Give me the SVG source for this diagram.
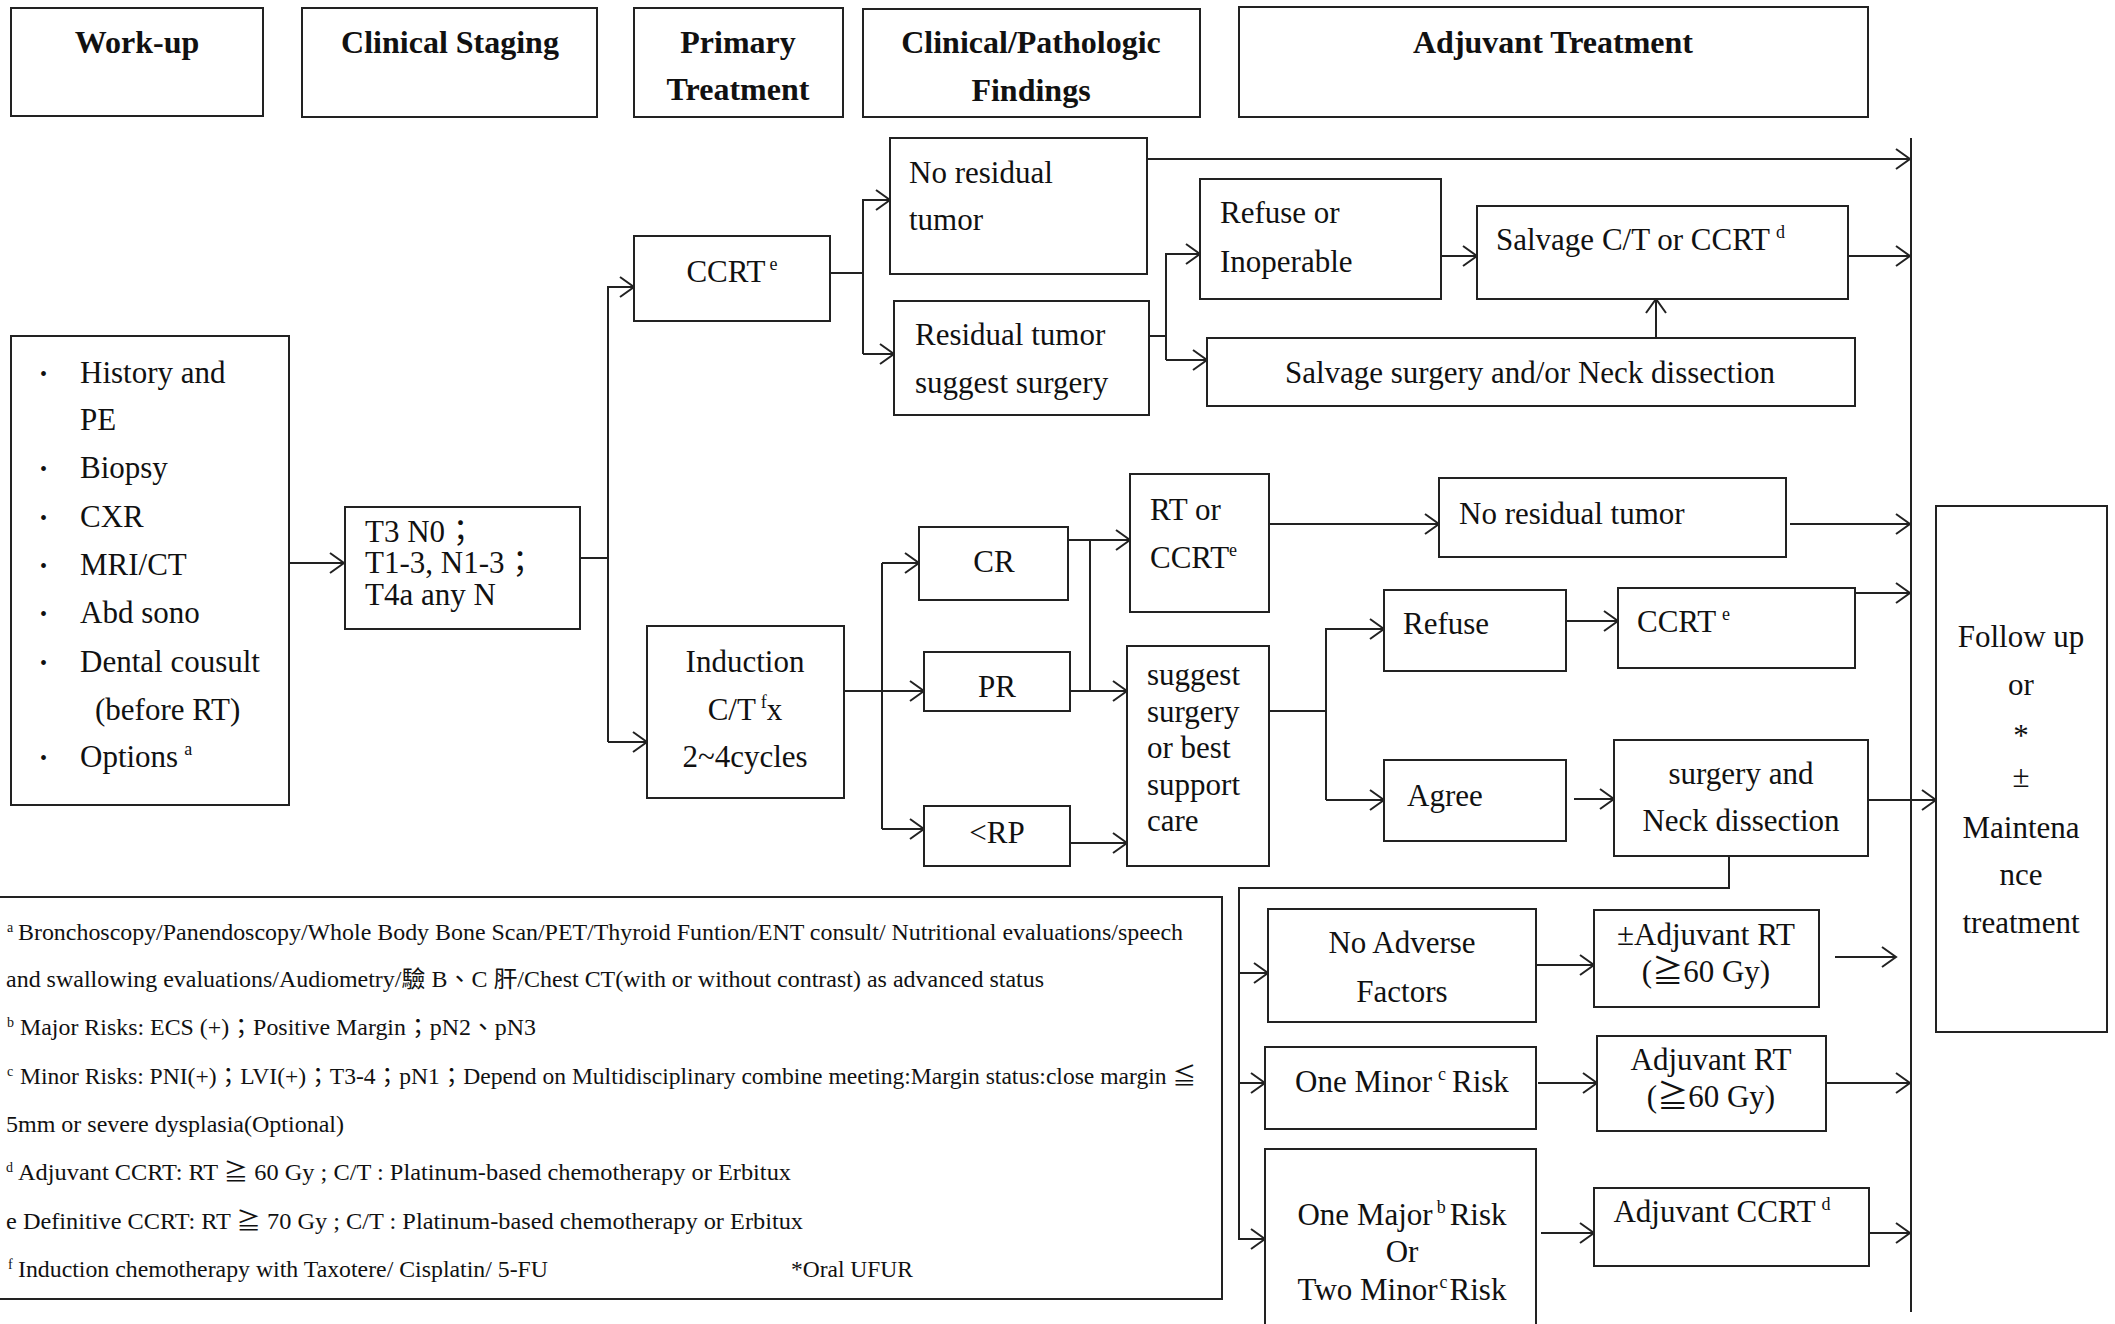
<svg xmlns="http://www.w3.org/2000/svg" width="2115" height="1324" viewBox="0 0 2115 1324">
<style>
rect{fill:#fff;stroke:#222;stroke-width:2}
text{font-family:"Liberation Serif","Times New Roman","Noto Sans CJK TC",serif;font-size:31px;fill:#111}
.h{font-weight:bold;font-size:32px}
.c{text-anchor:middle}
.fn{font-size:23px}
.fs{font-size:14px}
.sup{font-size:18px}
.bul{font-size:20px}
.ln{fill:none;stroke:#222;stroke-width:2}
.ar{marker-end:url(#ah)}
</style>
<defs>
<marker id="ah" markerUnits="userSpaceOnUse" markerWidth="20" markerHeight="22" viewBox="0 0 20 22" refX="15" refY="11" orient="auto">
<path d="M1,1 L15,11 L1,21" fill="none" stroke="#222" stroke-width="2"/>
</marker>
</defs>
<rect x="0" y="0" width="2115" height="1324" style="stroke:none"/>

<g id="connectors">
<path class="ln ar" d="M289,563 H344"/>
<path class="ln" d="M580,558 H608"/>
<path class="ln ar" d="M608,742 V287 H634"/>
<path class="ln ar" d="M608,742 H647"/>
<path class="ln" d="M830,273 H863"/>
<path class="ln ar" d="M863,354 V200 H890"/>
<path class="ln ar" d="M863,354 H894"/>
<path class="ln ar" d="M1147,159 H1910"/>
<path class="ln" d="M1149,336 H1166"/>
<path class="ln ar" d="M1166,360 V254 H1200"/>
<path class="ln ar" d="M1166,360 H1207"/>
<path class="ln ar" d="M1441,256 H1477"/>
<path class="ln ar" d="M1848,256 H1910"/>
<path class="ln ar" d="M1656,338 V299"/>
<path class="ln ar" d="M844,691 H924"/>
<path class="ln" d="M882,563 V829"/>
<path class="ln ar" d="M882,563 H919"/>
<path class="ln ar" d="M882,829 H924"/>
<path class="ln ar" d="M1068,540 H1130"/>
<path class="ln" d="M1090,540 V691"/>
<path class="ln ar" d="M1070,691 H1127"/>
<path class="ln ar" d="M1070,843 H1127"/>
<path class="ln ar" d="M1269,524 H1439"/>
<path class="ln ar" d="M1790,524 H1910"/>
<path class="ln" d="M1269,711 H1326"/>
<path class="ln ar" d="M1326,800 V629 H1384"/>
<path class="ln ar" d="M1326,800 H1384"/>
<path class="ln ar" d="M1566,621 H1618"/>
<path class="ln ar" d="M1855,593 H1910"/>
<path class="ln ar" d="M1574,799 H1614"/>
<path class="ln ar" d="M1868,800 H1936"/>
<path class="ln ar" d="M1729,856 V888 H1239 V1239 H1265"/>
<path class="ln ar" d="M1239,973 H1268"/>
<path class="ln ar" d="M1239,1083 H1265"/>
<path class="ln ar" d="M1536,965 H1594"/>
<path class="ln ar" d="M1835,957 H1896"/>
<path class="ln ar" d="M1538,1083 H1597"/>
<path class="ln ar" d="M1826,1083 H1910"/>
<path class="ln ar" d="M1541,1233 H1594"/>
<path class="ln ar" d="M1869,1233 H1910"/>
<path class="ln" d="M1911,138 V1312"/>
</g>

<g id="hdr-workup"><rect x="11" y="8" width="252" height="108"/><text class="h c" x="137" y="53">Work-up</text></g>
<g id="hdr-staging"><rect x="302" y="8" width="295" height="109"/><text class="h c" x="450" y="53">Clinical Staging</text></g>
<g id="hdr-primary"><rect x="634" y="8" width="209" height="109"/><text class="h c" x="738" y="53">Primary</text><text class="h c" x="738" y="100">Treatment</text></g>
<g id="hdr-findings"><rect x="863" y="9" width="337" height="108"/><text class="h c" x="1031" y="53">Clinical/Pathologic</text><text class="h c" x="1031" y="101">Findings</text></g>
<g id="hdr-adjuvant"><rect x="1239" y="7" width="629" height="110"/><text class="h c" x="1553" y="53">Adjuvant Treatment</text></g>

<g id="workup">
<rect x="11" y="336" width="278" height="469"/>
<text class="bul" x="40" y="381">•</text><text x="80" y="383">History and</text>
<text x="80" y="430">PE</text>
<text class="bul" x="40" y="476">•</text><text x="80" y="478">Biopsy</text>
<text class="bul" x="40" y="525">•</text><text x="80" y="527">CXR</text>
<text class="bul" x="40" y="573">•</text><text x="80" y="575">MRI/CT</text>
<text class="bul" x="40" y="621">•</text><text x="80" y="623">Abd sono</text>
<text class="bul" x="40" y="670">•</text><text x="80" y="672">Dental cousult</text>
<text x="95" y="720">(before RT)</text>
<text class="bul" x="40" y="765">•</text><text x="80" y="767">Options<tspan class="sup" dx="6" dy="-12">a</tspan></text>
</g>

<g id="staging">
<rect x="345" y="507" width="235" height="122"/>
<text x="365" y="542">T3 N0；</text>
<text x="365" y="573">T1-3, N1-3；</text>
<text x="365" y="605">T4a any N</text>
</g>

<g id="ccrt"><rect x="634" y="236" width="196" height="85"/><text class="c" x="732" y="282">CCRT<tspan class="sup" dx="4" dy="-12">e</tspan></text></g>
<g id="induction"><rect x="647" y="626" width="197" height="172"/>
<text class="c" x="745" y="672">Induction</text>
<text class="c" x="745" y="720">C/T<tspan class="sup" dx="5" dy="-12">f</tspan><tspan dy="12">x</tspan></text>
<text class="c" x="745" y="767">2~4cycles</text></g>

<g id="no-residual-1"><rect x="890" y="138" width="257" height="136"/><text x="909" y="183">No residual</text><text x="909" y="230">tumor</text></g>
<g id="residual"><rect x="894" y="301" width="255" height="114"/><text x="915" y="345">Residual tumor</text><text x="915" y="393">suggest surgery</text></g>
<g id="refuse-inoperable"><rect x="1200" y="179" width="241" height="120"/><text x="1220" y="223">Refuse or</text><text x="1220" y="272">Inoperable</text></g>
<g id="salvage-ct"><rect x="1477" y="206" width="371" height="93"/><text x="1496" y="250">Salvage C/T or CCRT<tspan class="sup" dx="6" dy="-12">d</tspan></text></g>
<g id="salvage-surgery"><rect x="1207" y="338" width="648" height="68"/><text class="c" x="1530" y="383">Salvage surgery and/or Neck dissection</text></g>

<g id="cr"><rect x="919" y="527" width="149" height="73"/><text class="c" x="994" y="572">CR</text></g>
<g id="pr"><rect x="924" y="652" width="146" height="59"/><text class="c" x="997" y="697">PR</text></g>
<g id="rp"><rect x="924" y="806" width="146" height="60"/><text class="c" x="997" y="843">&lt;RP</text></g>
<g id="rt-ccrt"><rect x="1130" y="474" width="139" height="138"/><text x="1150" y="520">RT or</text><text x="1150" y="568">CCRT<tspan class="sup" dy="-12">e</tspan></text></g>
<g id="suggest"><rect x="1127" y="646" width="142" height="220"/>
<text x="1147" y="685">suggest</text><text x="1147" y="722">surgery</text><text x="1147" y="758">or best</text><text x="1147" y="795">support</text><text x="1147" y="831">care</text></g>
<g id="no-residual-2"><rect x="1439" y="478" width="347" height="79"/><text x="1459" y="524">No residual tumor</text></g>
<g id="refuse"><rect x="1384" y="590" width="182" height="81"/><text x="1403" y="634">Refuse</text></g>
<g id="ccrt-2"><rect x="1618" y="588" width="237" height="80"/><text x="1637" y="632">CCRT<tspan class="sup" dx="6" dy="-12">e</tspan></text></g>
<g id="agree"><rect x="1384" y="760" width="182" height="81"/><text x="1407" y="806">Agree</text></g>
<g id="surgery-neck"><rect x="1614" y="740" width="254" height="116"/><text class="c" x="1741" y="784">surgery and</text><text class="c" x="1741" y="831">Neck dissection</text></g>

<g id="follow-up"><rect x="1936" y="506" width="171" height="526"/>
<text class="c" x="2021" y="647">Follow up</text>
<text class="c" x="2021" y="695">or</text>
<text class="c" x="2021" y="746">*</text>
<text class="c" x="2021" y="787">±</text>
<text class="c" x="2021" y="838">Maintena</text>
<text class="c" x="2021" y="885">nce</text>
<text class="c" x="2021" y="933">treatment</text></g>

<g id="no-adverse"><rect x="1268" y="909" width="268" height="113"/><text class="c" x="1402" y="953">No Adverse</text><text class="c" x="1402" y="1002">Factors</text></g>
<g id="adj-rt-opt"><rect x="1594" y="910" width="225" height="97"/><text class="c" x="1706" y="945">±Adjuvant RT</text><text class="c" x="1706" y="982">(≧60 Gy)</text></g>
<g id="one-minor"><rect x="1265" y="1047" width="271" height="82"/><text class="c" x="1402" y="1092">One Minor<tspan class="sup" dx="6" dy="-12">c</tspan><tspan dx="6" dy="12">Risk</tspan></text></g>
<g id="adj-rt"><rect x="1597" y="1036" width="229" height="95"/><text class="c" x="1711" y="1070">Adjuvant RT</text><text class="c" x="1711" y="1107">(≧60 Gy)</text></g>
<g id="one-major"><rect x="1265" y="1149" width="271" height="180"/>
<text class="c" x="1402" y="1225">One Major<tspan class="sup" dx="4" dy="-12">b</tspan><tspan dx="4" dy="12">Risk</tspan></text>
<text class="c" x="1402" y="1262">Or</text>
<text class="c" x="1402" y="1300">Two Minor<tspan class="sup" dx="2" dy="-12">c</tspan><tspan dx="2" dy="12">Risk</tspan></text></g>
<g id="adj-ccrt"><rect x="1594" y="1188" width="275" height="78"/><text class="c" x="1722" y="1222">Adjuvant CCRT<tspan class="sup" dx="6" dy="-12">d</tspan></text></g>

<g id="footnotes">
<rect x="-2" y="897" width="1224" height="402"/>
<text class="fs" x="7" y="932">a</text>
<text class="fn" x="18" y="940" textLength="1165" lengthAdjust="spacingAndGlyphs">Bronchoscopy/Panendoscopy/Whole Body Bone Scan/PET/Thyroid Funtion/ENT consult/ Nutritional evaluations/speech</text>
<text class="fn" x="6" y="987" textLength="1038" lengthAdjust="spacingAndGlyphs">and swallowing evaluations/Audiometry/驗 B、C 肝/Chest CT(with or without contrast) as advanced status</text>
<text class="fs" x="7" y="1027">b</text>
<text class="fn" x="20" y="1035" textLength="516" lengthAdjust="spacingAndGlyphs">Major Risks: ECS (+)；Positive Margin；pN2、pN3</text>
<text class="fs" x="7" y="1076">c</text>
<text class="fn" x="20" y="1084" textLength="1176" lengthAdjust="spacingAndGlyphs">Minor Risks: PNI(+)；LVI(+)；T3-4；pN1；Depend on Multidisciplinary combine meeting:Margin status:close margin ≦</text>
<text class="fn" x="6" y="1132" textLength="338" lengthAdjust="spacingAndGlyphs">5mm or severe dysplasia(Optional)</text>
<text class="fs" x="6" y="1172">d</text>
<text class="fn" x="18" y="1180" textLength="773" lengthAdjust="spacingAndGlyphs">Adjuvant CCRT: RT ≧ 60 Gy ; C/T : Platinum-based chemotherapy or Erbitux</text>
<text class="fn" x="6" y="1229" textLength="797" lengthAdjust="spacingAndGlyphs">e Definitive CCRT: RT ≧ 70 Gy ; C/T : Platinum-based chemotherapy or Erbitux</text>
<text class="fs" x="8" y="1269">f</text>
<text class="fn" x="18" y="1277" textLength="530" lengthAdjust="spacingAndGlyphs">Induction chemotherapy with Taxotere/ Cisplatin/ 5-FU</text>
<text class="fn" x="791" y="1277" textLength="122" lengthAdjust="spacingAndGlyphs">*Oral UFUR</text>
</g>
</svg>
